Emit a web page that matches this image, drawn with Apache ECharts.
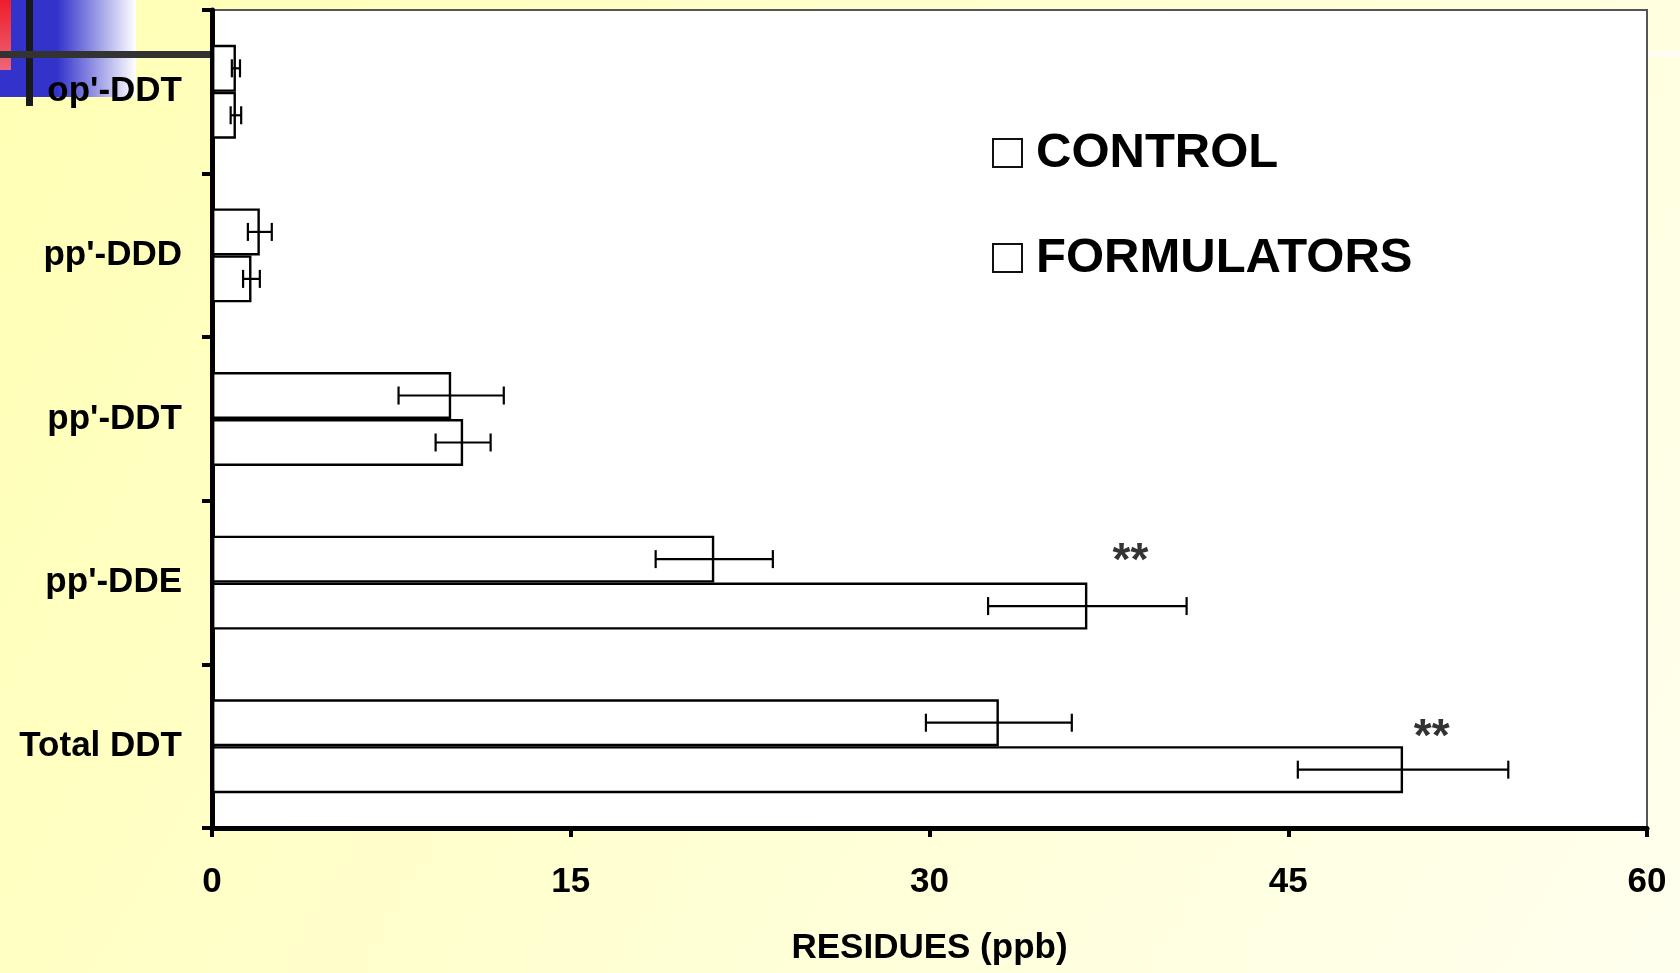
<!DOCTYPE html>
<html><head><meta charset="utf-8">
<script src="https://cdn.jsdelivr.net/npm/echarts@6/dist/echarts.min.js"></script>
<style>html,body{margin:0;padding:0;width:1680px;height:973px;overflow:hidden;background:#FFFFD0}#c{width:1680px;height:973px}</style>
</head><body><div id="c"></div>
<script>
// ---- data ----
const categories = ["op'-DDT", "pp'-DDD", "pp'-DDT", "pp'-DDE", "Total DDT"];
const seriesNames = ['CONTROL', 'FORMULATORS'];
const controlMean = [1.0, 2.0, 10.0, 21.0, 32.9];
const controlErr  = [0.17, 0.5, 2.2, 2.45, 3.05];
const formMean    = [1.0, 1.65, 10.5, 36.6, 49.8];
const formErr     = [0.22, 0.35, 1.15, 4.15, 4.4];
const xTicks = [0, 15, 30, 45, 60];
const starX = [38.4, 51.0];
const starCat = ["pp'-DDE", "Total DDT"];
const starText = ['**', '**'];

// ---- styles ----
const FONT = '"Liberation Sans", Arial, sans-serif';
const BAR_FRAC = 0.287;
const starOffsets = [[0, -20], [0, -8]];

function errSeries(means, errs, side) {
  return {
    type: 'custom', z: 5, silent: true,
    encode: { x: 0, y: 1 },
    data: means.map((m, i) => [m, i, errs[i]]),
    renderItem(params, api) {
      const m = api.value(0), ci = api.value(1), e = api.value(2);
      const band = api.size([0, 1])[1];
      const off = side * band * BAR_FRAC / 2;
      const p0 = api.coord([m - e, ci]);
      const p1 = api.coord([m + e, ci]);
      const y = p0[1] + off;
      const cap = 9;
      const st = { stroke: '#000', lineWidth: 2.2 };
      return { type: 'group', children: [
        { type: 'line', shape: { x1: p0[0], y1: y, x2: p1[0], y2: y }, style: st },
        { type: 'line', shape: { x1: p0[0], y1: y - cap, x2: p0[0], y2: y + cap }, style: st },
        { type: 'line', shape: { x1: p1[0], y1: y - cap, x2: p1[0], y2: y + cap }, style: st }
      ]};
    }
  };
}

const chart = echarts.init(document.getElementById('c'), null, { renderer: 'canvas' });
const barStyle = { color: '#ffffff', borderColor: '#000', borderWidth: 2.4 };

chart.setOption({
  animation: false,
  backgroundColor: {
    type: 'linear', x: 0, y: 0, x2: 1, y2: 1,
    colorStops: [{ offset: 0, color: '#FFFFB4' }, { offset: 0.5, color: '#FFFFD2' }, { offset: 1, color: '#FFFFEE' }]
  },
  graphic: [
    { type: 'rect', z: -10, shape: { x: 0, y: 0, width: 136, height: 97 },
      style: { fill: { type: 'linear', x: 0, y: 0, x2: 1, y2: 0,
        colorStops: [{ offset: 0, color: '#3333CC' }, { offset: 0.42, color: '#3333CC' }, { offset: 1, color: '#FFFFFF' }] } } },
    { type: 'rect', z: -9, shape: { x: 0, y: 0, width: 11, height: 70 },
      style: { fill: { type: 'linear', x: 0, y: 0, x2: 0, y2: 1,
        colorStops: [{ offset: 0, color: '#EE1C2C' }, { offset: 1, color: '#EE6677' }] } } },
    { type: 'rect', z: -8, shape: { x: 26, y: 0, width: 7, height: 106 }, style: { fill: '#1A1A1A' } },
    { type: 'rect', z: -8, shape: { x: 0, y: 51, width: 212, height: 7 }, style: { fill: '#333333' } },
    { type: 'rect', z: -8, shape: { x: 1649, y: 51, width: 31, height: 6 }, style: { fill: '#FDFDF4' } }
  ],
  grid: { left: 212, right: 33, top: 10, bottom: 145, show: true, backgroundColor: '#ffffff', borderColor: '#555', borderWidth: 2 },
  legend: {
    orient: 'vertical', left: 987, top: 120, itemGap: 49,
    itemWidth: 29, itemHeight: 28, icon: 'rect', selectedMode: false,
    data: seriesNames,
    itemStyle: { color: '#fff', borderColor: '#111', borderWidth: 2 },
    textStyle: { fontFamily: FONT, fontSize: 49, fontWeight: 'bold', color: '#000', lineHeight: 56, padding: [0, 0, 0, 9] }
  },
  xAxis: {
    type: 'value', min: xTicks[0], max: xTicks[xTicks.length - 1], interval: xTicks[1] - xTicks[0],
    name: 'RESIDUES (ppb)', nameLocation: 'middle', nameGap: 103,
    nameTextStyle: { fontFamily: FONT, fontSize: 35, fontWeight: 'bold', color: '#000' },
    axisLine: { show: true, onZero: false, lineStyle: { color: '#000', width: 5 } },
    axisTick: { show: true, length: 9, lineStyle: { color: '#000', width: 4 } },
    axisLabel: { margin: 37, fontFamily: FONT, fontSize: 35, fontWeight: 'bold', color: '#000' },
    splitLine: { show: false }
  },
  yAxis: {
    type: 'category', data: categories, inverse: true,
    axisLine: { show: true, lineStyle: { color: '#000', width: 5 } },
    axisTick: { show: true, length: 10, alignWithLabel: false, lineStyle: { color: '#000', width: 4 } },
    axisLabel: { margin: 30, fontFamily: FONT, fontSize: 35, fontWeight: 'bold', color: '#000' },
    splitLine: { show: false }
  },
  series: [
    { name: seriesNames[0], type: 'bar', data: controlMean, barWidth: (BAR_FRAC * 100) + '%', barGap: '0%', itemStyle: barStyle, silent: true },
    { name: seriesNames[1], type: 'bar', data: formMean, barWidth: (BAR_FRAC * 100) + '%', barGap: '0%', itemStyle: barStyle, silent: true },
    errSeries(controlMean, controlErr, -1),
    errSeries(formMean, formErr, 1),
    {
      type: 'scatter', z: 6, silent: true, symbolSize: 1, itemStyle: { color: 'rgba(0,0,0,0)' },
      data: starX.map((x, i) => ({ value: [x, starCat[i]], label: { offset: starOffsets[i] } })),
      label: { show: true, position: 'inside', formatter: p => starText[p.dataIndex],
        fontFamily: FONT, fontSize: 46, fontWeight: 'bold', color: '#000', textBorderWidth: 0, textBorderColor: 'transparent' }
    }
  ]
});
</script>
</body></html>
